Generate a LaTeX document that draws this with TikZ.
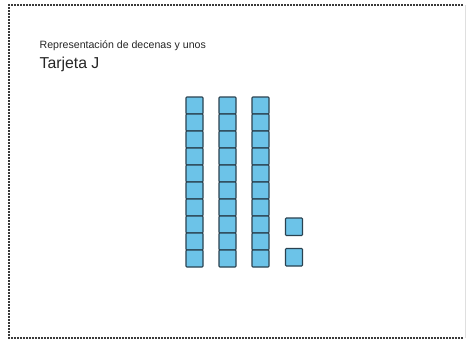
\documentclass[tikz,border=0pt]{standalone}
\usepackage{fontspec}
\setmainfont{Liberation Sans}
\definecolor{cubefill}{HTML}{6CC3E8}
\definecolor{cubeedge}{HTML}{2A4250}
\definecolor{dotcol}{HTML}{3A3A3A}
\begin{document}
\begin{tikzpicture}[x=1pt,y=-1pt,
  cube/.style={draw=cubeedge,fill=cubefill,line width=1.1pt,rounded corners=0.8pt},
  border/.style={draw=dotcol,line width=1.7pt,dash pattern=on 1.7pt off 1.3pt},
  lbl/.style={anchor=base west,inner sep=0pt,text=black!85}]
\useasboundingbox (0,0) rectangle (467,341);
\fill[white] (0,0) rectangle (467,341);
% border
\draw[border] (463,5) -- (9,5) -- (9,338) -- (463,338);
\draw[gray!25,line width=0.6pt] (465.5,5) -- (465.5,338);
% labels
\node[lbl,font=\fontsize{10.6}{12}\selectfont] (sub) at (39.5,48.8) {Representación de decenas y unos};
\node[lbl,font=\fontsize{15.8}{18}\selectfont] (title) at (39.5,68) {Tarjeta J};
% tens rods
\foreach \x in {186,219,252}{
  \foreach \k in {0,...,9}{
    \draw[cube] (\x,{97+17*\k}) rectangle ++(17,17);
  }
}
% ones
\draw[cube] (285.5,218) rectangle ++(17,17.5);
\draw[cube] (285.5,248.5) rectangle ++(17,17.5);
\end{tikzpicture}
\end{document}
